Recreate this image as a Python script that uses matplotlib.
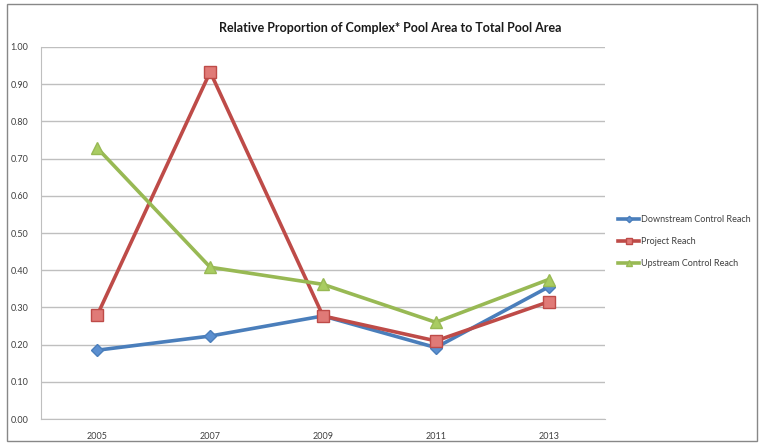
import matplotlib
matplotlib.use("Agg")
import matplotlib.pyplot as plt
from matplotlib.patches import Rectangle

years = ["2005", "2007", "2009", "2011", "2013"]
downstream = [0.185, 0.223, 0.277, 0.192, 0.355]
project = [0.280, 0.933, 0.277, 0.210, 0.315]
upstream = [0.728, 0.408, 0.362, 0.260, 0.375]
yticks = [0.0, 0.1, 0.2, 0.3, 0.4, 0.5, 0.6, 0.7, 0.8, 0.9, 1.0]

plt.rcParams["font.family"] = ["Lato", "DejaVu Sans"]

fig = plt.figure(figsize=(7.63, 4.44), dpi=100)
ax = fig.add_axes([41 / 763, 25 / 444, 564 / 763, 372 / 444])

x = list(range(len(years)))
ax.plot(x, downstream, color="#4A7EBB", lw=2.6, marker="D", ms=6.5,
        mfc="#5B8FD0", mec="#4A7EBB", label="Downstream Control Reach", zorder=3)
ax.plot(x, project, color="#BE4B48", lw=2.6, marker="s", ms=8.5,
        mfc="#E07A77", mec="#BE4B48", label="Project Reach", zorder=3)
ax.plot(x, upstream, color="#98B954", lw=2.6, marker="^", ms=9,
        mfc="#A9CC62", mec="#98B954", label="Upstream Control Reach", zorder=3)

ax.set_xlim(-0.5, len(years) - 0.5)
ax.set_ylim(0, 1.0)
ax.set_xticks(x)
ax.set_xticklabels(years)
ax.set_yticks(yticks)
ax.set_yticklabels([f"{v:.2f}" for v in yticks])
ax.yaxis.grid(True, color="#BFBFBF", lw=1.0)
ax.set_axisbelow(True)
ax.tick_params(axis="both", length=0, labelsize=6.5, colors="#404040")
ax.tick_params(axis="x", pad=9)
ax.tick_params(axis="y", pad=9)
for side in ["top", "right"]:
    ax.spines[side].set_visible(False)
ax.spines["left"].set_color("#BFBFBF")
ax.spines["bottom"].set_color("#BFBFBF")

fig.text(0.512, 0.937, "Relative Proportion of Complex* Pool Area to Total Pool Area",
         ha="center", va="center", fontsize=9, fontweight="bold", color="#1a1a1a")

leg = fig.legend(loc="center left", bbox_to_anchor=(612 / 763, 0.456),
                 frameon=False, fontsize=6.5, handlelength=2.3,
                 labelspacing=1.45, handletextpad=0.2, markerscale=0.5,
                 borderpad=0.2)
for t in leg.get_texts():
    t.set_color("#404040")

fig.patches.append(Rectangle((7 / 763, 3 / 444), 750 / 763, 437 / 444,
                             transform=fig.transFigure, fill=False,
                             edgecolor="#888888", lw=1.0))

fig.savefig("out.png", dpi=100)
